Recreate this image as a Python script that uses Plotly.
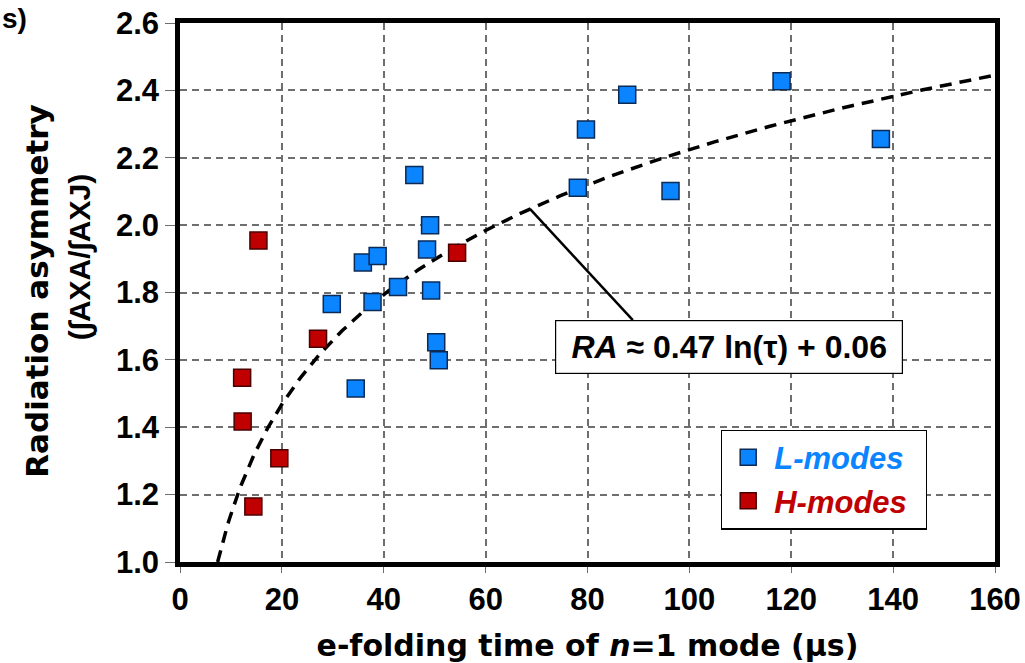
import numpy as np
import plotly.graph_objects as go

# ---- data ----
l_tau = [46.0, 79.7, 78.1, 49.1, 48.5, 35.9, 38.8, 42.8, 49.3, 29.8, 37.8,
         50.3, 50.8, 34.5, 87.8, 118.1, 96.3, 137.6]
l_ra = [2.149, 2.284, 2.111, 2.000, 1.928, 1.889, 1.908, 1.816, 1.806, 1.766, 1.772,
        1.652, 1.599, 1.515, 2.387, 2.427, 2.101, 2.256]

h_tau = [15.4, 54.4, 27.1, 12.2, 12.3, 19.5, 14.4]
h_ra = [1.954, 1.918, 1.663, 1.547, 1.417, 1.308, 1.165]

fit_a = 0.47
fit_b = 0.06
fit_label_tau = 68.7

x_ticks = [0, 20, 40, 60, 80, 100, 120, 140, 160]
y_ticks = [1.0, 1.2, 1.4, 1.6, 1.8, 2.0, 2.2, 2.4, 2.6]

BLUE = "#0A84FF"
RED = "#C00000"
FONT = "Liberation Sans, Arial, Helvetica, sans-serif"
TFONT = "DejaVu Sans, sans-serif"

tau_min = float(np.exp((1.0 - fit_b) / fit_a))
tau_fit = np.linspace(tau_min, 160, 400)
ra_fit = fit_a * np.log(tau_fit) + fit_b

fig = go.Figure()
fig.add_trace(go.Scatter(
    x=tau_fit, y=ra_fit, mode="lines", showlegend=False, hoverinfo="skip",
    line=dict(color="black", width=3.5, dash="12px,8px")))
fig.add_trace(go.Scatter(
    x=l_tau, y=l_ra, mode="markers",
    name="<span style='color:%s'><b><i>L-modes</i></b></span>\u00a0\u00a0" % BLUE,
    marker=dict(symbol="square", size=17, color=BLUE,
                line=dict(color="#0B2A55", width=1.5))))
fig.add_trace(go.Scatter(
    x=h_tau, y=h_ra, mode="markers",
    name="<span style='color:%s'><b><i>H-modes</i></b></span>\u00a0" % RED,
    marker=dict(symbol="square", size=17, color=RED,
                line=dict(color="#4A0000", width=1.5))))

# pointer line from the fit curve to the label box
y0 = fit_a * np.log(fit_label_tau) + fit_b
fig.add_shape(type="line", xref="x", yref="y", x0=fit_label_tau, y0=y0,
              x1=88.9, y1=1.718, line=dict(color="black", width=2.5))

fig.add_annotation(
    x=107.8, y=1.638, xref="x", yref="y", showarrow=False,
    text="<b><i>RA</i> ≈ 0.47 ln(τ) + 0.06</b>",
    font=dict(family=FONT, size=32, color="black"),
    bgcolor="white", bordercolor="black", borderwidth=1.2, borderpad=5,
    width=336, height=42)

# y-axis title (two lines)
fig.add_annotation(
    x=-0.1755, y=0.503, xref="paper", yref="paper", showarrow=False,
    xanchor="center", yanchor="middle",
    text="<b>Radiation asymmetry</b>", textangle=-90,
    font=dict(family=TFONT, size=31, color="black"))
fig.add_annotation(
    x=-0.1225, y=0.5656, xref="paper", yref="paper", showarrow=False,
    xanchor="center", yanchor="middle",
    text="<b>(∫AXA/∫AXJ)</b>", textangle=-90,
    font=dict(family=FONT, size=30, color="black"))

# panel label in the corner
fig.add_annotation(
    x=-0.2209, y=1.0407, xref="paper", yref="paper", showarrow=False,
    xanchor="left", yanchor="top", text="<b>s)</b>",
    font=dict(family=FONT, size=28, color="black"))

grid = dict(showgrid=True, gridcolor="#6e6e6e", gridwidth=1.5, griddash="7px,5px")
fig.update_xaxes(
    range=[0, 160], tickvals=x_ticks, ticktext=["<b>%d</b>" % v for v in x_ticks],
    showline=True, linecolor="black", linewidth=4.5, mirror=True,
    ticks="outside", ticklen=6, tickcolor="#6e6e6e", zeroline=False,
    automargin=False,
    tickfont=dict(family=FONT, size=31, color="black"),
    title=dict(text="<b>e-folding time of <i>n</i>=1 mode (µs)</b>",
               font=dict(family=TFONT, size=30, color="black"), standoff=29),
    **grid)
fig.update_yaxes(
    range=[1.0, 2.6], tickvals=y_ticks, ticktext=["<b>%.1f</b>" % v for v in y_ticks],
    showline=True, linecolor="black", linewidth=4.5, mirror=True,
    ticks="outside", ticklen=10, tickcolor="#6e6e6e", zeroline=False,
    automargin=False,
    tickfont=dict(family=FONT, size=31, color="black"),
    **grid)

fig.update_layout(
    width=1025, height=663,
    margin=dict(l=180, r=30, t=23, b=101),
    paper_bgcolor="white", plot_bgcolor="white",
    font=dict(family=FONT, color="black"),
    legend=dict(x=0.6638, y=0.2458, xanchor="left", yanchor="top",
                bgcolor="white", bordercolor="black", borderwidth=1.2,
                font=dict(family=FONT, size=31), itemwidth=42,
                tracegroupgap=0),
)

fig.write_html("out.html")
